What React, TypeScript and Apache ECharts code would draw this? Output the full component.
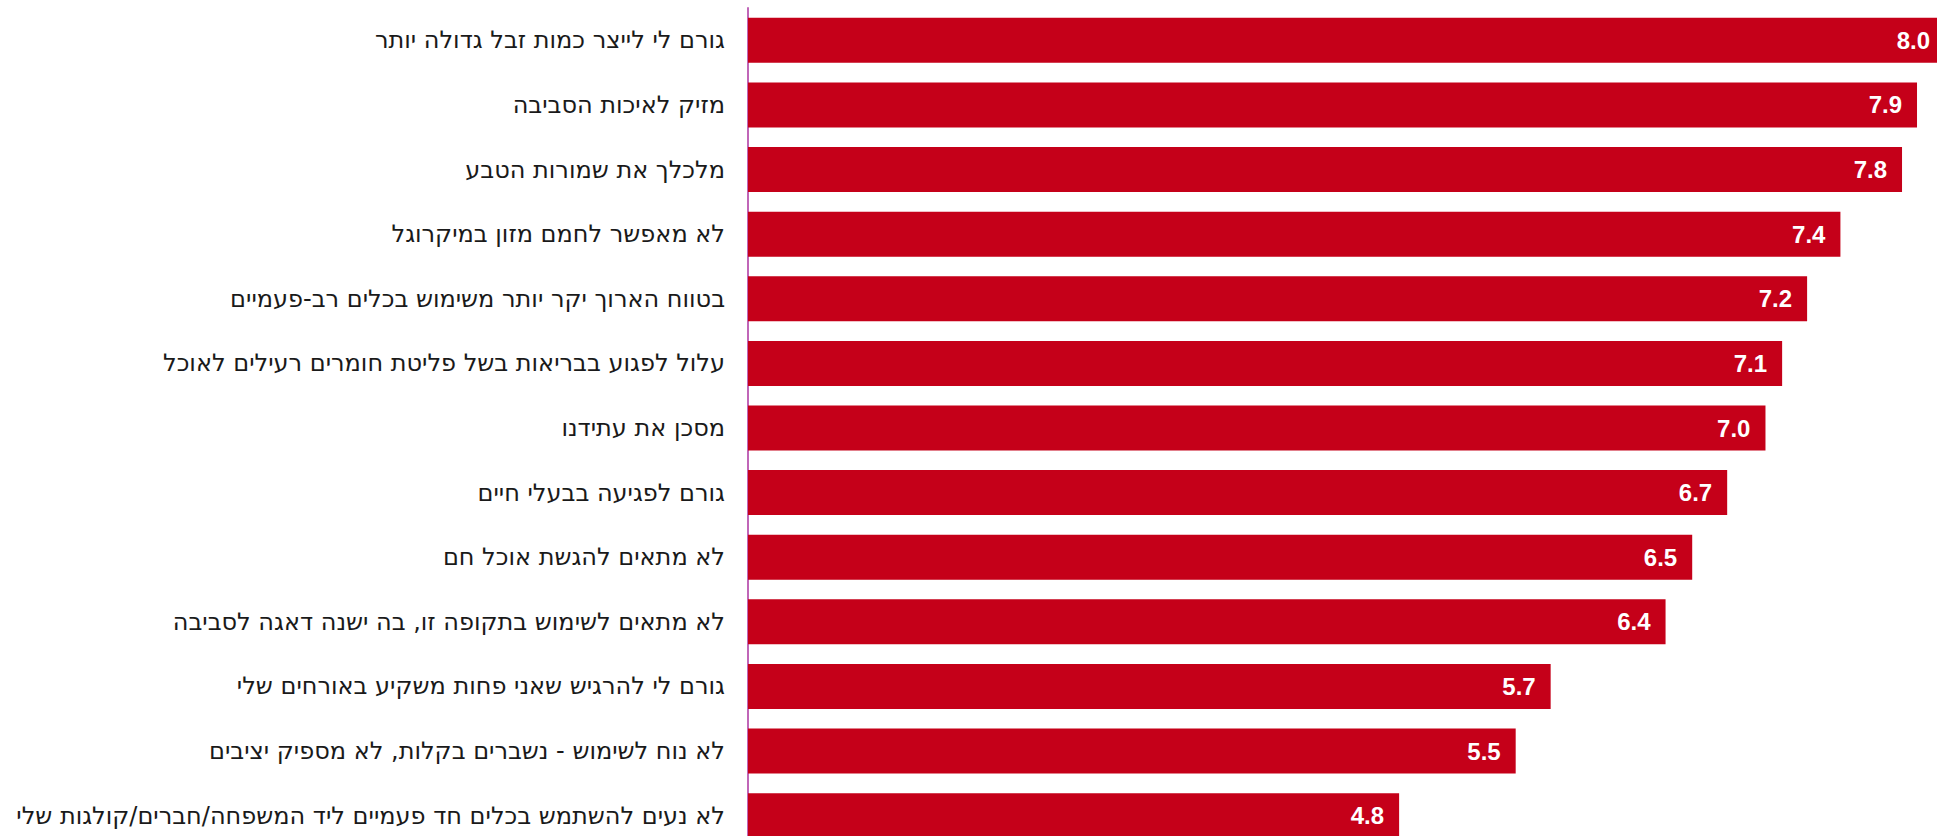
import React, { useEffect, useRef } from "react";
import * as echarts from "echarts";

const categories = [
  "גורם לי לייצר כמות זבל גדולה יותר",
  "מזיק לאיכות הסביבה",
  "מלכלך את שמורות הטבע",
  "לא מאפשר לחמם מזון במיקרוגל",
  "בטווח הארוך יקר יותר משימוש בכלים רב-פעמיים",
  "עלול לפגוע בבריאות בשל פליטת חומרים רעילים לאוכל",
  "מסכן את עתידנו",
  "גורם לפגיעה בבעלי חיים",
  "לא מתאים להגשת אוכל חם",
  "לא מתאים לשימוש בתקופה זו, בה ישנה דאגה לסביבה",
  "גורם לי להרגיש שאני פחות משקיע באורחים שלי",
  "לא נוח לשימוש - נשברים בקלות, לא מספיק יציבים",
  "לא נעים להשתמש בכלים חד פעמיים ליד המשפחה/חברים/קולגות שלי",
];

// values; labels show one decimal (truncated)
const values = [8.07, 7.91, 7.82, 7.45, 7.25, 7.1, 7.0, 6.77, 6.56, 6.4, 5.71, 5.5, 4.8];

const AXIS_MAX = 8.03;

export default function App() {
  const ref = useRef<HTMLDivElement>(null);
  useEffect(() => {
    if (!ref.current) return;
    const chart = echarts.init(ref.current, null, { renderer: "svg" });
    chart.setOption({
      animation: false,
      grid: { left: 748, right: 0, top: 8, bottom: 0, containLabel: false },
      xAxis: {
        type: "value",
        min: 0.89,
        max: AXIS_MAX,
        show: false,
        splitLine: { show: false },
      },
      yAxis: {
        type: "category",
        data: categories,
        inverse: true,
        axisLine: { show: true, lineStyle: { color: "#c066b8", width: 2 } },
        axisTick: { show: false },
        axisLabel: {
          color: "#1a1a1a",
          fontSize: 24,
          fontFamily: "DejaVu Sans, sans-serif",
          margin: 23,
        },
      },
      series: [
        {
          type: "bar",
          data: values.map((v) =>
            v > AXIS_MAX ? { value: v, label: { distance: 7 } } : v
          ),
          barWidth: 45,
          clip: true,
          itemStyle: { color: "#c50019" },
          label: {
            show: true,
            position: "insideRight",
            distance: 15,
            color: "#ffffff",
            fontSize: 24,
            fontWeight: "bold",
            fontFamily: "Liberation Sans, Arial, sans-serif",
            formatter: (p: any) =>
              (Math.floor(Number(p.value) * 10 + 1e-6) / 10).toFixed(1),
          },
        },
      ],
    });
    return () => chart.dispose();
  }, []);
  return (
    <div
      style={{
        position: "absolute",
        left: 0,
        top: 0,
        width: 1937,
        height: 836,
        overflow: "hidden",
      }}
    >
      <div ref={ref} style={{ width: 1937, height: 848 }} />
    </div>
  );
}
